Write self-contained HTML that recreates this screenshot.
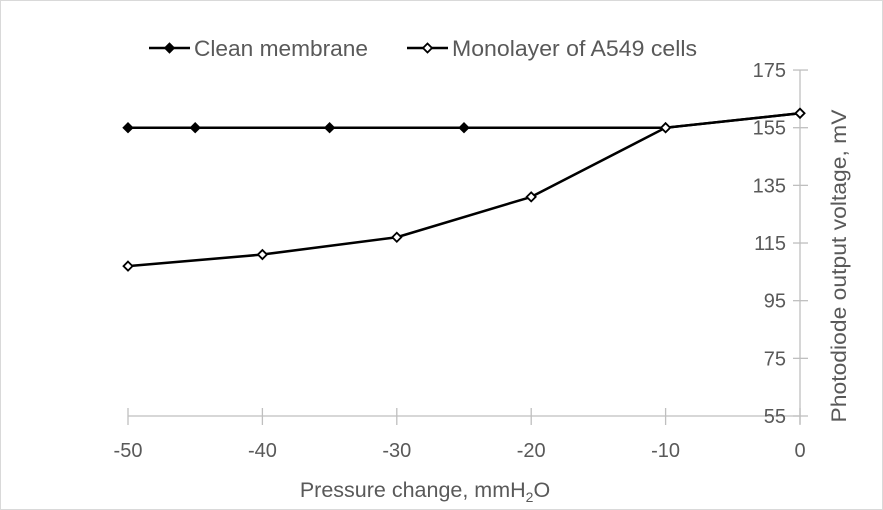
<!DOCTYPE html>
<html><head><meta charset="utf-8"><style>
body{margin:0;background:#fff}
svg{display:block;font-family:"Liberation Sans",sans-serif}
</style></head><body>
<svg id="chart" width="883" height="510" viewBox="0 0 883 510" xmlns="http://www.w3.org/2000/svg">
<rect x="0.5" y="0.5" width="882" height="509" fill="#fff" stroke="#d9d9d9"/>
<g id="axes"></g>
<g id="series"></g>
<g>
<g>
<line x1="149" y1="48" x2="190" y2="48" stroke="#000" stroke-width="2.5"/>
<path d="M169.5 43 L174.5 48 L169.5 53 L164.5 48 Z" fill="#000" stroke="#000" stroke-width="1"/>
<text x="194" y="56" font-size="22.5" fill="#595959" textLength="174" lengthAdjust="spacingAndGlyphs">Clean membrane</text>
</g>
<g>
<line x1="407" y1="48" x2="448" y2="48" stroke="#000" stroke-width="2.5"/>
<path d="M427.5 43.5 L432 48 L427.5 52.5 L423 48 Z" fill="#fff" stroke="#000" stroke-width="1.8"/>
<text x="452" y="56" font-size="22.5" fill="#595959" textLength="245" lengthAdjust="spacingAndGlyphs">Monolayer of A549 cells</text>
</g>
</g>
<text x="425" y="497" font-size="21.5" fill="#595959" text-anchor="middle">Pressure change, mmH<tspan font-size="14" dy="5">2</tspan><tspan dy="-5">O</tspan></text>
<text transform="translate(846,266) rotate(-90)" font-size="21.5" fill="#595959" text-anchor="middle" textLength="313" lengthAdjust="spacingAndGlyphs">Photodiode output voltage, mV</text>
</svg>
<script>
const xTicks=[-50,-40,-30,-20,-10,0];
const yTicks=[55,75,95,115,135,155,175];
const cleanX=[-50,-45,-35,-25,-10,0];
const cleanY=[155,155,155,155,155,160];
const monoX=[-50,-40,-30,-20,-10,0];
const monoY=[107,111,117,131,155,160];
const NS="http://www.w3.org/2000/svg";
const sx=v=>800+(v)*13.44;
const sy=v=>416-(v-55)*2.883;
function mk(tag,attrs,parent){const e=document.createElementNS(NS,tag);for(const k in attrs)e.setAttribute(k,attrs[k]);parent.appendChild(e);return e;}
const ax=document.getElementById('axes');
const sr=document.getElementById('series');
let l=mk('line',{x1:sx(-50),y1:416,x2:800,y2:416,stroke:'#bfbfbf','stroke-width':1.3},ax);


l=mk('line',{x1:800,y1:sy(175),x2:800,y2:424,stroke:'#bfbfbf','stroke-width':1.3},ax);


xTicks.forEach(v=>{
 let t=mk('line',{x1:sx(v),y1:408,x2:sx(v),y2:425,stroke:'#bfbfbf','stroke-width':1.3},ax);
 
 
 let tx=mk('text',{x:sx(v),y:457,'font-size':20,fill:'#595959','text-anchor':'middle'},ax);
 tx.textContent=v;
 
 
});
yTicks.forEach(v=>{
 let t=mk('line',{x1:793,y1:sy(v),x2:808,y2:sy(v),stroke:'#bfbfbf','stroke-width':1.3},ax);
 
 
 let tx=mk('text',{x:786,y:sy(v)+7,'font-size':20,fill:'#595959','text-anchor':'end'},ax);
 tx.textContent=v;
 
 
});
function series(xs,ys,name,filled){
 const p=mk('polyline',{points:xs.map((x,i)=>sx(x)+','+sy(ys[i])).join(' '),fill:'none',stroke:'#000','stroke-width':2.5,'stroke-linejoin':'round'},sr);
 
 
 xs.forEach((x,i)=>{
  const cx=sx(x),cy=sy(ys[i]),r=filled?5:4.5;
  const m=mk('path',{d:`M${cx} ${cy-r} L${cx+r} ${cy} L${cx} ${cy+r} L${cx-r} ${cy} Z`,fill:filled?'#000':'#fff',stroke:'#000','stroke-width':filled?1:1.8},sr);
  
  
 });
}
series(cleanX,cleanY,'clean-membrane',true);
series(monoX,monoY,'monolayer',false);
</script>
</body></html>
